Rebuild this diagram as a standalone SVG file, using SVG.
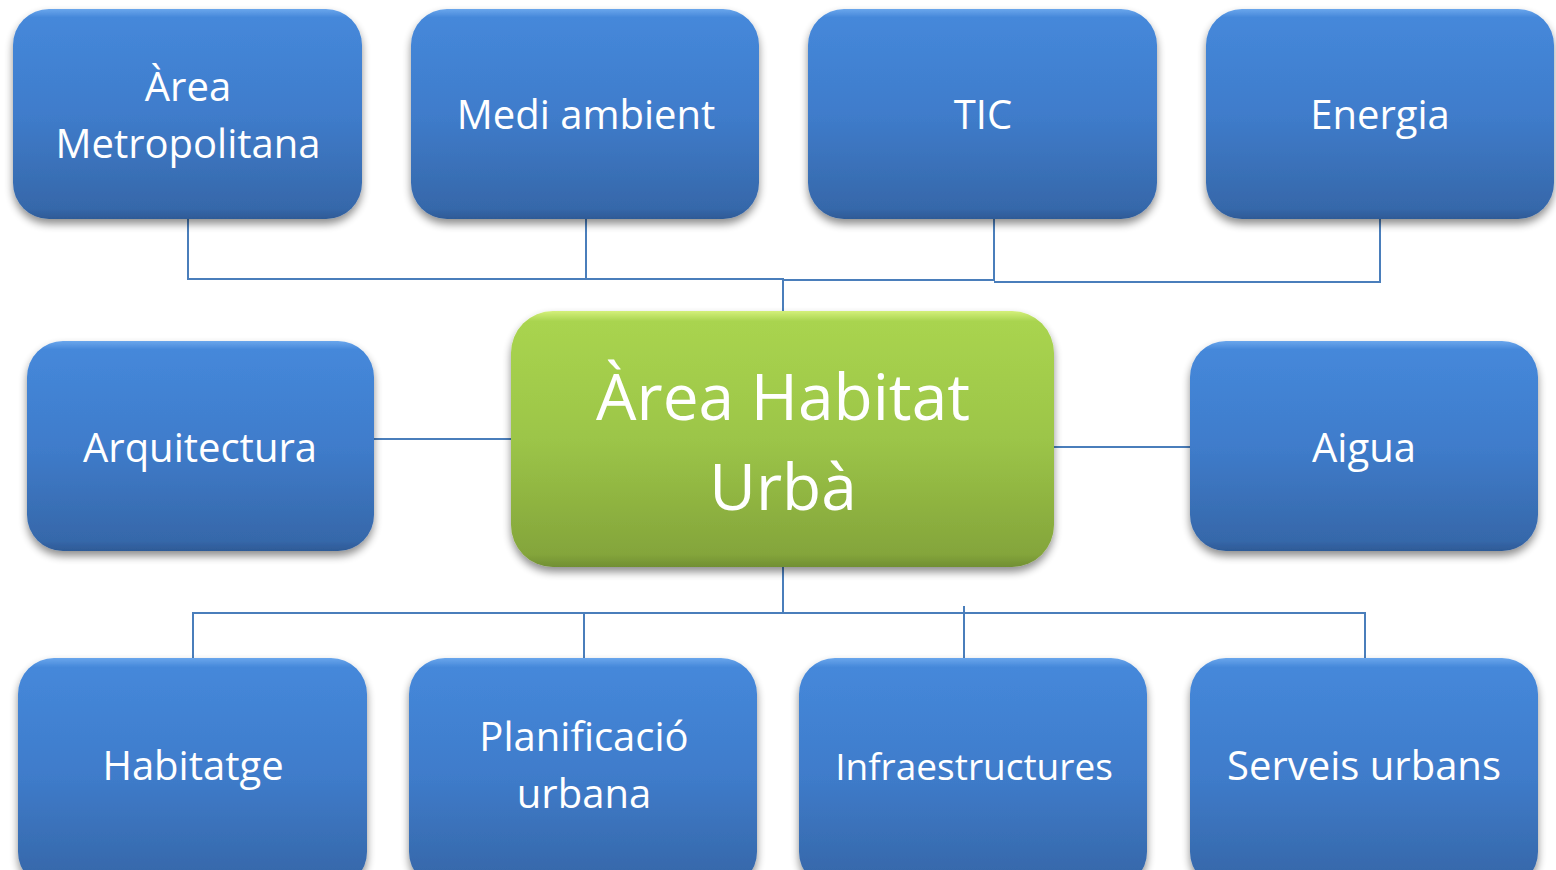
<svg xmlns="http://www.w3.org/2000/svg" width="1556" height="870" viewBox="0 0 1556 870">
<defs>
<linearGradient id="gb" x1="0" y1="0" x2="0" y2="1">
<stop offset="0" stop-color="#6aa6ec"/>
<stop offset="0.04" stop-color="#4588da"/>
<stop offset="0.5" stop-color="#3f7ccb"/>
<stop offset="0.95" stop-color="#3668aa"/>
<stop offset="1" stop-color="#2e5a96"/>
</linearGradient>
<linearGradient id="gg" x1="0" y1="0" x2="0" y2="1">
<stop offset="0" stop-color="#d4f07a"/>
<stop offset="0.04" stop-color="#a9d44f"/>
<stop offset="0.5" stop-color="#9cc548"/>
<stop offset="0.95" stop-color="#84a53b"/>
<stop offset="1" stop-color="#718f33"/>
</linearGradient>
<filter id="sh" x="-10%" y="-10%" width="120%" height="130%">
<feGaussianBlur in="SourceAlpha" stdDeviation="4"/>
<feOffset dx="0" dy="5" result="b"/>
<feComponentTransfer><feFuncA type="linear" slope="0.45"/></feComponentTransfer>
<feMerge><feMergeNode/><feMergeNode in="SourceGraphic"/></feMerge>
</filter>
<style>
.b{fill:url(#gb);filter:url(#sh);}
.g{fill:url(#gg);filter:url(#sh);}
.t{font-family:"Open Sans","Liberation Sans",sans-serif;fill:#ffffff;text-anchor:middle;font-size:40px;}
.tc{font-family:"Open Sans","Liberation Sans",sans-serif;fill:#ffffff;text-anchor:middle;font-size:64px;}
.c{fill:none;stroke:#4a7ebb;stroke-width:2;}
</style>
</defs>
<g id="connectors">
<polyline class="c" points="188,219 188,279 783,279 783,311"/>
<line class="c" x1="586" y1="219" x2="586" y2="279"/>
<polyline class="c" points="783,280 994,280 994,219"/>
<polyline class="c" points="994,282 1380,282 1380,219"/>
<line class="c" x1="374" y1="439" x2="511" y2="439"/>
<line class="c" x1="1054" y1="447" x2="1190" y2="447"/>
<line class="c" x1="783" y1="567" x2="783" y2="613"/>
<polyline class="c" points="193,658 193,613 1365,613 1365,658"/>
<line class="c" x1="584" y1="613" x2="584" y2="658"/>
<line class="c" x1="964" y1="606" x2="964" y2="658"/>
</g>
<g id="n1"><rect class="b" x="13" y="9" width="349" height="210" rx="36"/><text class="t" x="188" y="101">Àrea</text><text class="t" x="188" y="158">Metropolitana</text></g>
<g id="n2"><rect class="b" x="411" y="9" width="348" height="210" rx="36"/><text class="t" x="586" y="129">Medi ambient</text></g>
<g id="n3"><rect class="b" x="808" y="9" width="349" height="210" rx="36"/><text class="t" x="983" y="129">TIC</text></g>
<g id="n4"><rect class="b" x="1206" y="9" width="348" height="210" rx="36"/><text class="t" x="1380" y="129">Energia</text></g>
<g id="n5"><rect class="b" x="27" y="341" width="347" height="210" rx="36"/><text class="t" x="200" y="462">Arquitectura</text></g>
<g id="center"><rect class="g" x="511" y="311" width="543" height="256" rx="42"/><text class="tc" x="783" y="420">Àrea Habitat</text><text class="tc" x="783" y="510">Urbà</text></g>
<g id="n6"><rect class="b" x="1190" y="341" width="348" height="210" rx="36"/><text class="t" x="1364" y="462">Aigua</text></g>
<g id="n7"><rect class="b" x="18" y="658" width="349" height="230" rx="36"/><text class="t" x="193" y="780">Habitatge</text></g>
<g id="n8"><rect class="b" x="409" y="658" width="348" height="230" rx="36"/><text class="t" x="584" y="751">Planificació</text><text class="t" x="584" y="808">urbana</text></g>
<g id="n9"><rect class="b" x="799" y="658" width="348" height="230" rx="36"/><text class="t" x="974" y="780" style="font-size:37px">Infraestructures</text></g>
<g id="n10"><rect class="b" x="1190" y="658" width="348" height="230" rx="36"/><text class="t" x="1364" y="780">Serveis urbans</text></g>
</svg>
